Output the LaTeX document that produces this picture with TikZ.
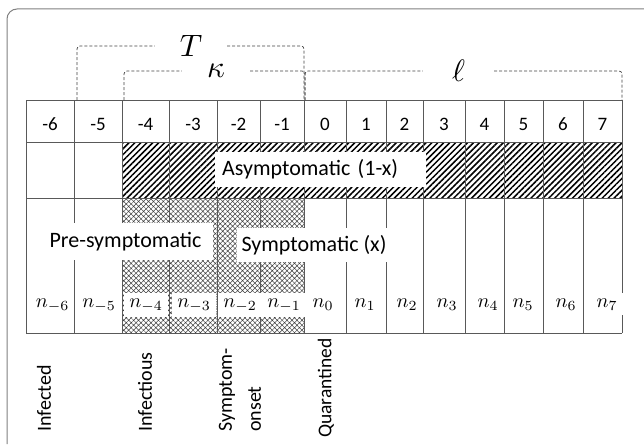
\documentclass[tikz,border=0pt]{standalone}
\usepackage{fontspec}
\setmainfont{Carlito}
\usetikzlibrary{patterns.meta}
\begin{document}
\begin{tikzpicture}[x=1pt,y=-1pt,
  gridline/.style={draw=black!65, line width=0.8pt},
  bracket/.style={draw=black!75, dash pattern=on 3pt off 2pt, line width=0.7pt, rounded corners=3pt},
  hdr/.style={font=\fontsize{19}{19}\selectfont, inner sep=0pt},
  lbl/.style={fill=white, inner sep=0pt, font=\fontsize{22}{22}\selectfont},
  nlab/.style={fill=white, inner xsep=5pt, inner ysep=5pt, anchor=base},
  vlab/.style={rotate=90, anchor=west, inner sep=0pt, font=\fontsize{20}{29}\selectfont, align=left},
  biglab/.style={inner sep=0pt}]
\useasboundingbox (0,0) rectangle (644,444);
% frame
\draw[black!50, line width=1pt, rounded corners=10pt] (7,444) -- (7,9) -- (644,9);
% patterns
\fill[pattern={Lines[angle=45,distance=4.2pt,line width=1.5pt]}] (122,142) rectangle (622,198);
\fill[pattern={Hatch[angle=45,distance=3.5pt,line width=0.5pt]}, pattern color=black!75] (122,198) rectangle (304,333);
% grid
\foreach \y in {100,142,198,333} \draw[gridline] (26,\y) -- (622,\y);
\foreach \x in {26,74,122,169,217,260,304,346,386,423,465,504,543,583,622} \draw[gridline] (\x,100) -- (\x,333);
% header
\foreach \c/\t [count=\j] in {50/-6, 98/-5, 145.5/-4, 193/-3, 238.5/-2, 282/-1, 325/0, 366/1, 404.5/2, 444/3, 484.5/4, 523.5/5, 563/6, 602.5/7}
  \node[hdr] (h\j) at (\c,124) {\t};
% n labels
\foreach \c/\s [count=\j] in {52.5/-6, 99/-5, 146/-4, 194/-3, 240/-2, 284/-1, 323/0, 365/1, 407/2, 447/3, 488/4, 523/5, 566/6, 607/7}
  \node[nlab] (n\j) at (\c,307) {\scalebox{2}{$n_{\s}$}};
% row labels
\node[lbl, text width=197pt, align=left, inner xsep=7pt, minimum height=35pt, anchor=west] (asy) at (215,169.5) {Asymptomatic (1-x)};
\node[lbl, minimum width=175pt, minimum height=37pt] (pre) at (125.5,241.5) {Pre-symptomatic};
\node[lbl, minimum width=154pt, minimum height=34pt] (sym) at (314,245) {Symptomatic (x)};
% bracket labels
\node[biglab, minimum width=72pt] (T) at (191,46) {\scalebox{3.1}{$T$}};
\node[biglab, minimum width=68pt] (K) at (216,71) {\scalebox{3.1}{$\kappa$}};
\node[biglab, minimum width=71pt] (L) at (458.5,71) {\scalebox{3.1}{$\ell$}};
\coordinate (Ta) at (77,100); \coordinate (Tb) at (304,100);
\coordinate (Ka) at (124,100); \coordinate (Kb) at (305,100);
\coordinate (La) at (305,100); \coordinate (Lb) at (622,100);
\draw[bracket] (Ta) -- (Ta |- T.west) -- (T.west);
\draw[bracket] (T.east) -- (Tb |- T.east) -- (Tb);
\draw[bracket] (Ka) -- (Ka |- K.west) -- (K.west);
\draw[bracket] (K.east) -- (Kb |- K.east) -- (Kb);
\draw[bracket] (La) -- (La |- L.west) -- (L.west);
\draw[bracket] (L.east) -- (Lb |- L.east) -- (Lb);
% bottom labels
\node[vlab] (inf) at (44,432) {Infected};
\node[vlab] (infs) at (145,432) {Infectious};
\node[vlab] (ons) at (240,432) {Symptom-\\onset};
\node[vlab, font=\fontsize{19.5}{29}\selectfont] (qua) at (326,438) {Quarantined};
\end{tikzpicture}
\end{document}
